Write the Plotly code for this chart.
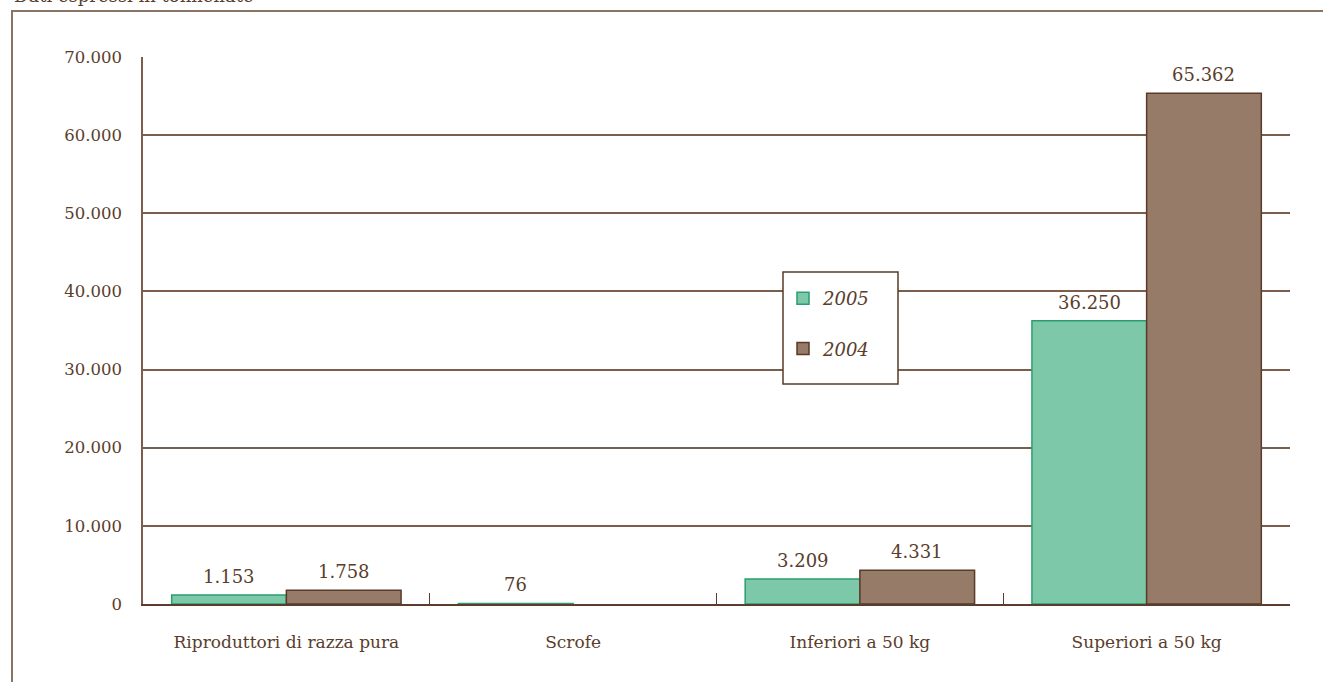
import plotly.graph_objects as go

categories = ["Riproduttori di razza pura", "Scrofe", "Inferiori a 50 kg", "Superiori a 50 kg"]
values_2005 = [1153, 76, 3209, 36250]
values_2004 = [1758, None, 4331, 65362]
y_ticks = [0, 10000, 20000, 30000, 40000, 50000, 60000, 70000]

FONT = "DejaVu Serif"
TXT = "#5a3d2b"
GRID = "#7a5e4c"

W, H = 1323, 682
L, R, T, B = 143, 33, 57, 78
PW, PH = W - L - R, H - T - B
BARGAP = 0.2


def px(x):
    return (x - L) / PW


def py(y):
    return (H - B - y) / PH


def fmt(v):
    return f"{v:,d}".replace(",", ".")


fig = go.Figure()
fig.add_trace(go.Bar(
    name="2005", x=categories, y=values_2005,
    marker=dict(color="#7cc8a8", line=dict(color="#2a9f6e", width=1.5)),
    legendgroup="a",
))
fig.add_trace(go.Bar(
    name="2004", x=categories, y=values_2004,
    marker=dict(color="#967b69", line=dict(color="#5a3a28", width=1.5)),
    legendgroup="b",
))

# value labels above bars (placed via the data axes)
bar_w = PW / len(categories) * (1 - BARGAP) / 2
annotations = []
for series, shift in ((values_2005, -bar_w / 2), (values_2004, bar_w / 2)):
    for cat, v in zip(categories, series):
        if v is None:
            continue
        annotations.append(dict(
            x=cat, y=v, xref="x", yref="y", text=fmt(v), showarrow=False,
            xshift=shift, yshift=6, yanchor="bottom", xanchor="center",
            font=dict(family=FONT, size=18, color=TXT),
        ))

annotations.append(dict(
    text="Dati espressi in tonnellate", xref="paper", yref="paper",
    x=px(12), y=py(8), xanchor="left", yanchor="bottom",
    showarrow=False, font=dict(family=FONT, size=18, color=TXT),
))

fig.update_layout(
    width=W, height=H,
    margin=dict(l=L, r=R, t=T, b=B, autoexpand=False),
    paper_bgcolor="white", plot_bgcolor="white",
    separators=",.",
    barmode="group", bargap=BARGAP, bargroupgap=0,
    font=dict(family=FONT, color=TXT, size=16),
    showlegend=True,
    legend=dict(
        x=px(783), y=py(280), xanchor="left", yanchor="top",
        bgcolor="rgba(0,0,0,0)", borderwidth=0,
        font=dict(family=FONT, size=18, color=TXT, style="italic"),
        traceorder="grouped", tracegroupgap=24,
        itemwidth=30,
    ),
    xaxis=dict(
        type="category", showgrid=False, showline=True, linecolor=TXT, linewidth=2,
        ticks="inside", tickson="boundaries", ticklen=11, tickcolor=TXT, tickwidth=1,
        tickfont=dict(family=FONT, size=17, color=TXT), ticklabelstandoff=22,
    ),
    yaxis=dict(
        range=[0, 70000], tickvals=y_ticks, tickformat=",d",
        showgrid=True, gridcolor=GRID, gridwidth=1.5, zeroline=False,
        showline=True, linecolor=GRID, linewidth=1.5, ticks="",
        tickfont=dict(family=FONT, size=16.5, color=TXT), ticklabelstandoff=16,
    ),
    shapes=[
        dict(
            type="rect", xref="paper", yref="paper",
            x0=px(12), x1=px(1400), y0=py(760), y1=py(11),
            line=dict(color="#8a7463", width=2), fillcolor="rgba(0,0,0,0)", layer="below",
        ),
        dict(
            type="rect", xref="paper", yref="paper",
            x0=px(783), x1=px(898), y0=py(384), y1=py(272),
            line=dict(color="#5a3a28", width=1.5), fillcolor="white", layer="above",
        ),
    ],
    annotations=annotations,
)

fig.write_html(
    "out.html",
    config={"displayModeBar": False},
    post_script="document.body.style.margin='0';document.body.style.overflow='hidden';",
)
